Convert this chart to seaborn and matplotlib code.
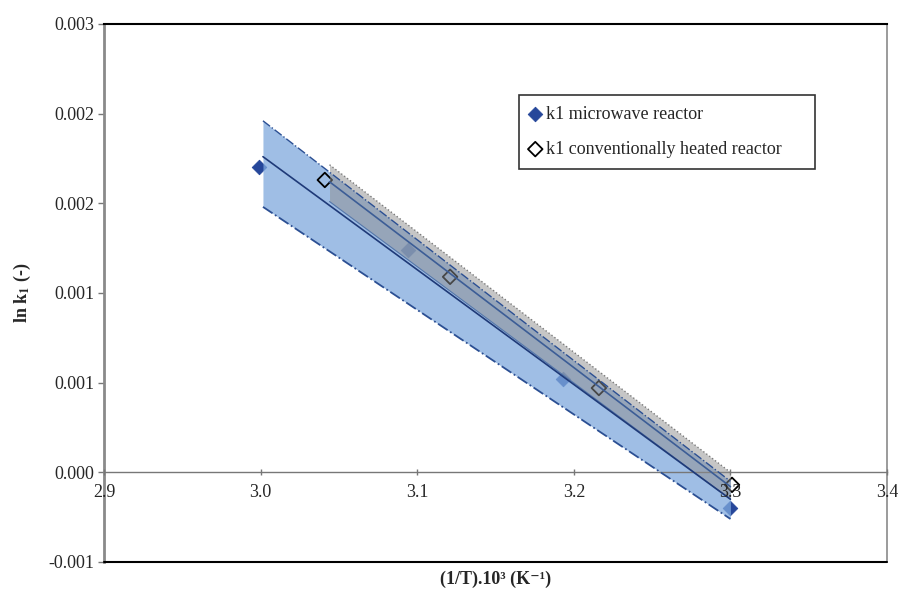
import matplotlib
matplotlib.use("Agg")
import matplotlib.pyplot as plt
import seaborn as sns
import pandas as pd

# points
mw_x = [2.999, 3.094, 3.193, 3.300]
mw_y = [0.00170, 0.00124, 0.00052, -0.00020]
cv_x = [3.041, 3.121, 3.216, 3.301]
cv_y = [0.00163, 0.00109, 0.00047, -0.00007]

# trend lines and confidence bands (end points)
mw_band_x = [3.0015, 3.300]
mw_fit = [0.00176, -0.00015]
mw_upper = [0.00196, -0.00005]
mw_lower = [0.00148, -0.00026]
cv_band_x = [3.044, 3.300]
cv_fit = [0.00162, -0.00008]
cv_upper = [0.001715, 0.0]
cv_lower = [0.00151, -0.00015]

xticks = [2.9, 3.0, 3.1, 3.2, 3.3, 3.4]
xtick_labels = ["2.9", "3.0", "3.1", "3.2", "3.3", "3.4"]
yticks = [-0.0005, 0.0, 0.0005, 0.001, 0.0015, 0.002, 0.0025]
ytick_labels = ["-0.001", "0.000", "0.001", "0.001", "0.002", "0.002", "0.003"]

sns.set_theme(style="white")
plt.rcParams["font.family"] = ["Liberation Serif", "DejaVu Serif"]
plt.rcParams["font.size"] = 13
plt.rcParams["mathtext.fontset"] = "stix"


def main():
    fig = plt.figure(figsize=(8.98, 5.99), dpi=100)
    ax = fig.add_axes([0.1158, 0.0618, 0.872, 0.8982])

    # drawing order: microwave points, blue band, conventional points, grey band
    sns.scatterplot(x=mw_x, y=mw_y, marker="D", s=55, color="#26479a", edgecolor="#26479a",
                    label="k1 microwave reactor", ax=ax, zorder=1)
    ax.fill_between(mw_band_x, mw_lower, mw_upper, color="#7fa9dd", alpha=0.75, lw=0, zorder=2)
    sns.scatterplot(x=cv_x, y=cv_y, marker="D", s=55, facecolor="none", edgecolor="black",
                    linewidth=1.3, label="k1 conventionally heated reactor", ax=ax, zorder=2.5)
    ax.fill_between(cv_band_x, cv_lower, cv_upper, color="#8e8e8e", alpha=0.5, lw=0, zorder=3)

    ax.plot(mw_band_x, mw_upper, color="#2b4f93", lw=1.0, ls="-.", zorder=4)
    ax.plot(mw_band_x, mw_lower, color="#2b4f93", lw=1.3, ls="-.", zorder=4)
    ax.plot(cv_band_x, cv_upper, color="#7a7a7a", lw=1.0, ls=":", zorder=4)
    ax.plot(cv_band_x, cv_lower, color="#5577aa", lw=0.8, ls="-", zorder=4)

    fit = pd.DataFrame({"x": mw_band_x + cv_band_x,
                        "y": mw_fit + cv_fit,
                        "series": ["mw"] * 2 + ["cv"] * 2})
    sns.lineplot(data=fit, x="x", y="y", hue="series", palette={"mw": "#1f3a78", "cv": "#3c5d96"},
                 lw=1.2, legend=False, ax=ax, zorder=5)

    ax.set_xlim(2.9, 3.4)
    ax.set_ylim(-0.0005, 0.0025)
    ax.set_xticks(xticks)
    ax.set_xticklabels(xtick_labels)
    ax.set_yticks(yticks)
    ax.set_yticklabels(ytick_labels)

    # x axis crosses at y = 0, the frame stays around the plot
    ax.spines["bottom"].set_position(("data", 0))
    ax.spines["bottom"].set_color("#777777")
    ax.spines["bottom"].set_linewidth(1.0)
    ax.spines["left"].set_color("#8a8a8a")
    ax.spines["left"].set_linewidth(2.0)
    ax.spines["right"].set_color("#8a8a8a")
    ax.spines["right"].set_linewidth(1.2)
    ax.spines["top"].set_color("black")
    ax.spines["top"].set_linewidth(1.5)
    ax.axhline(-0.0005, color="black", lw=1.5, clip_on=False, zorder=6)
    ax.xaxis.set_zorder(6)

    ax.tick_params(axis="x", direction="inout", length=5, width=1, color="#777777", pad=6,
                   labelsize=13, bottom=True)
    ax.tick_params(axis="y", direction="out", length=4, width=1, color="#777777", pad=3,
                   labelsize=13, left=True)

    ax.set_xlabel("(1/T).10³ (K⁻¹)", fontweight="bold", fontsize=13)
    ax.xaxis.set_label_coords(0.5, -0.016)
    ax.set_ylabel(r"ln k$_{\mathbf{1}}$ (-)", fontweight="bold", fontsize=13, labelpad=11)

    leg = ax.legend(loc="upper left", bbox_to_anchor=(0.53, 0.732, 0.378, 0.136), mode="expand",
                    frameon=True, fancybox=False, edgecolor="black", handlelength=0.6,
                    handletextpad=0.3, borderpad=0.6, labelspacing=1.0, fontsize=13,
                    borderaxespad=0)
    leg.get_frame().set_linewidth(1.2)

    fig.savefig("out.png", dpi=100)
    plt.close(fig)


if __name__ == "__main__":
    main()
